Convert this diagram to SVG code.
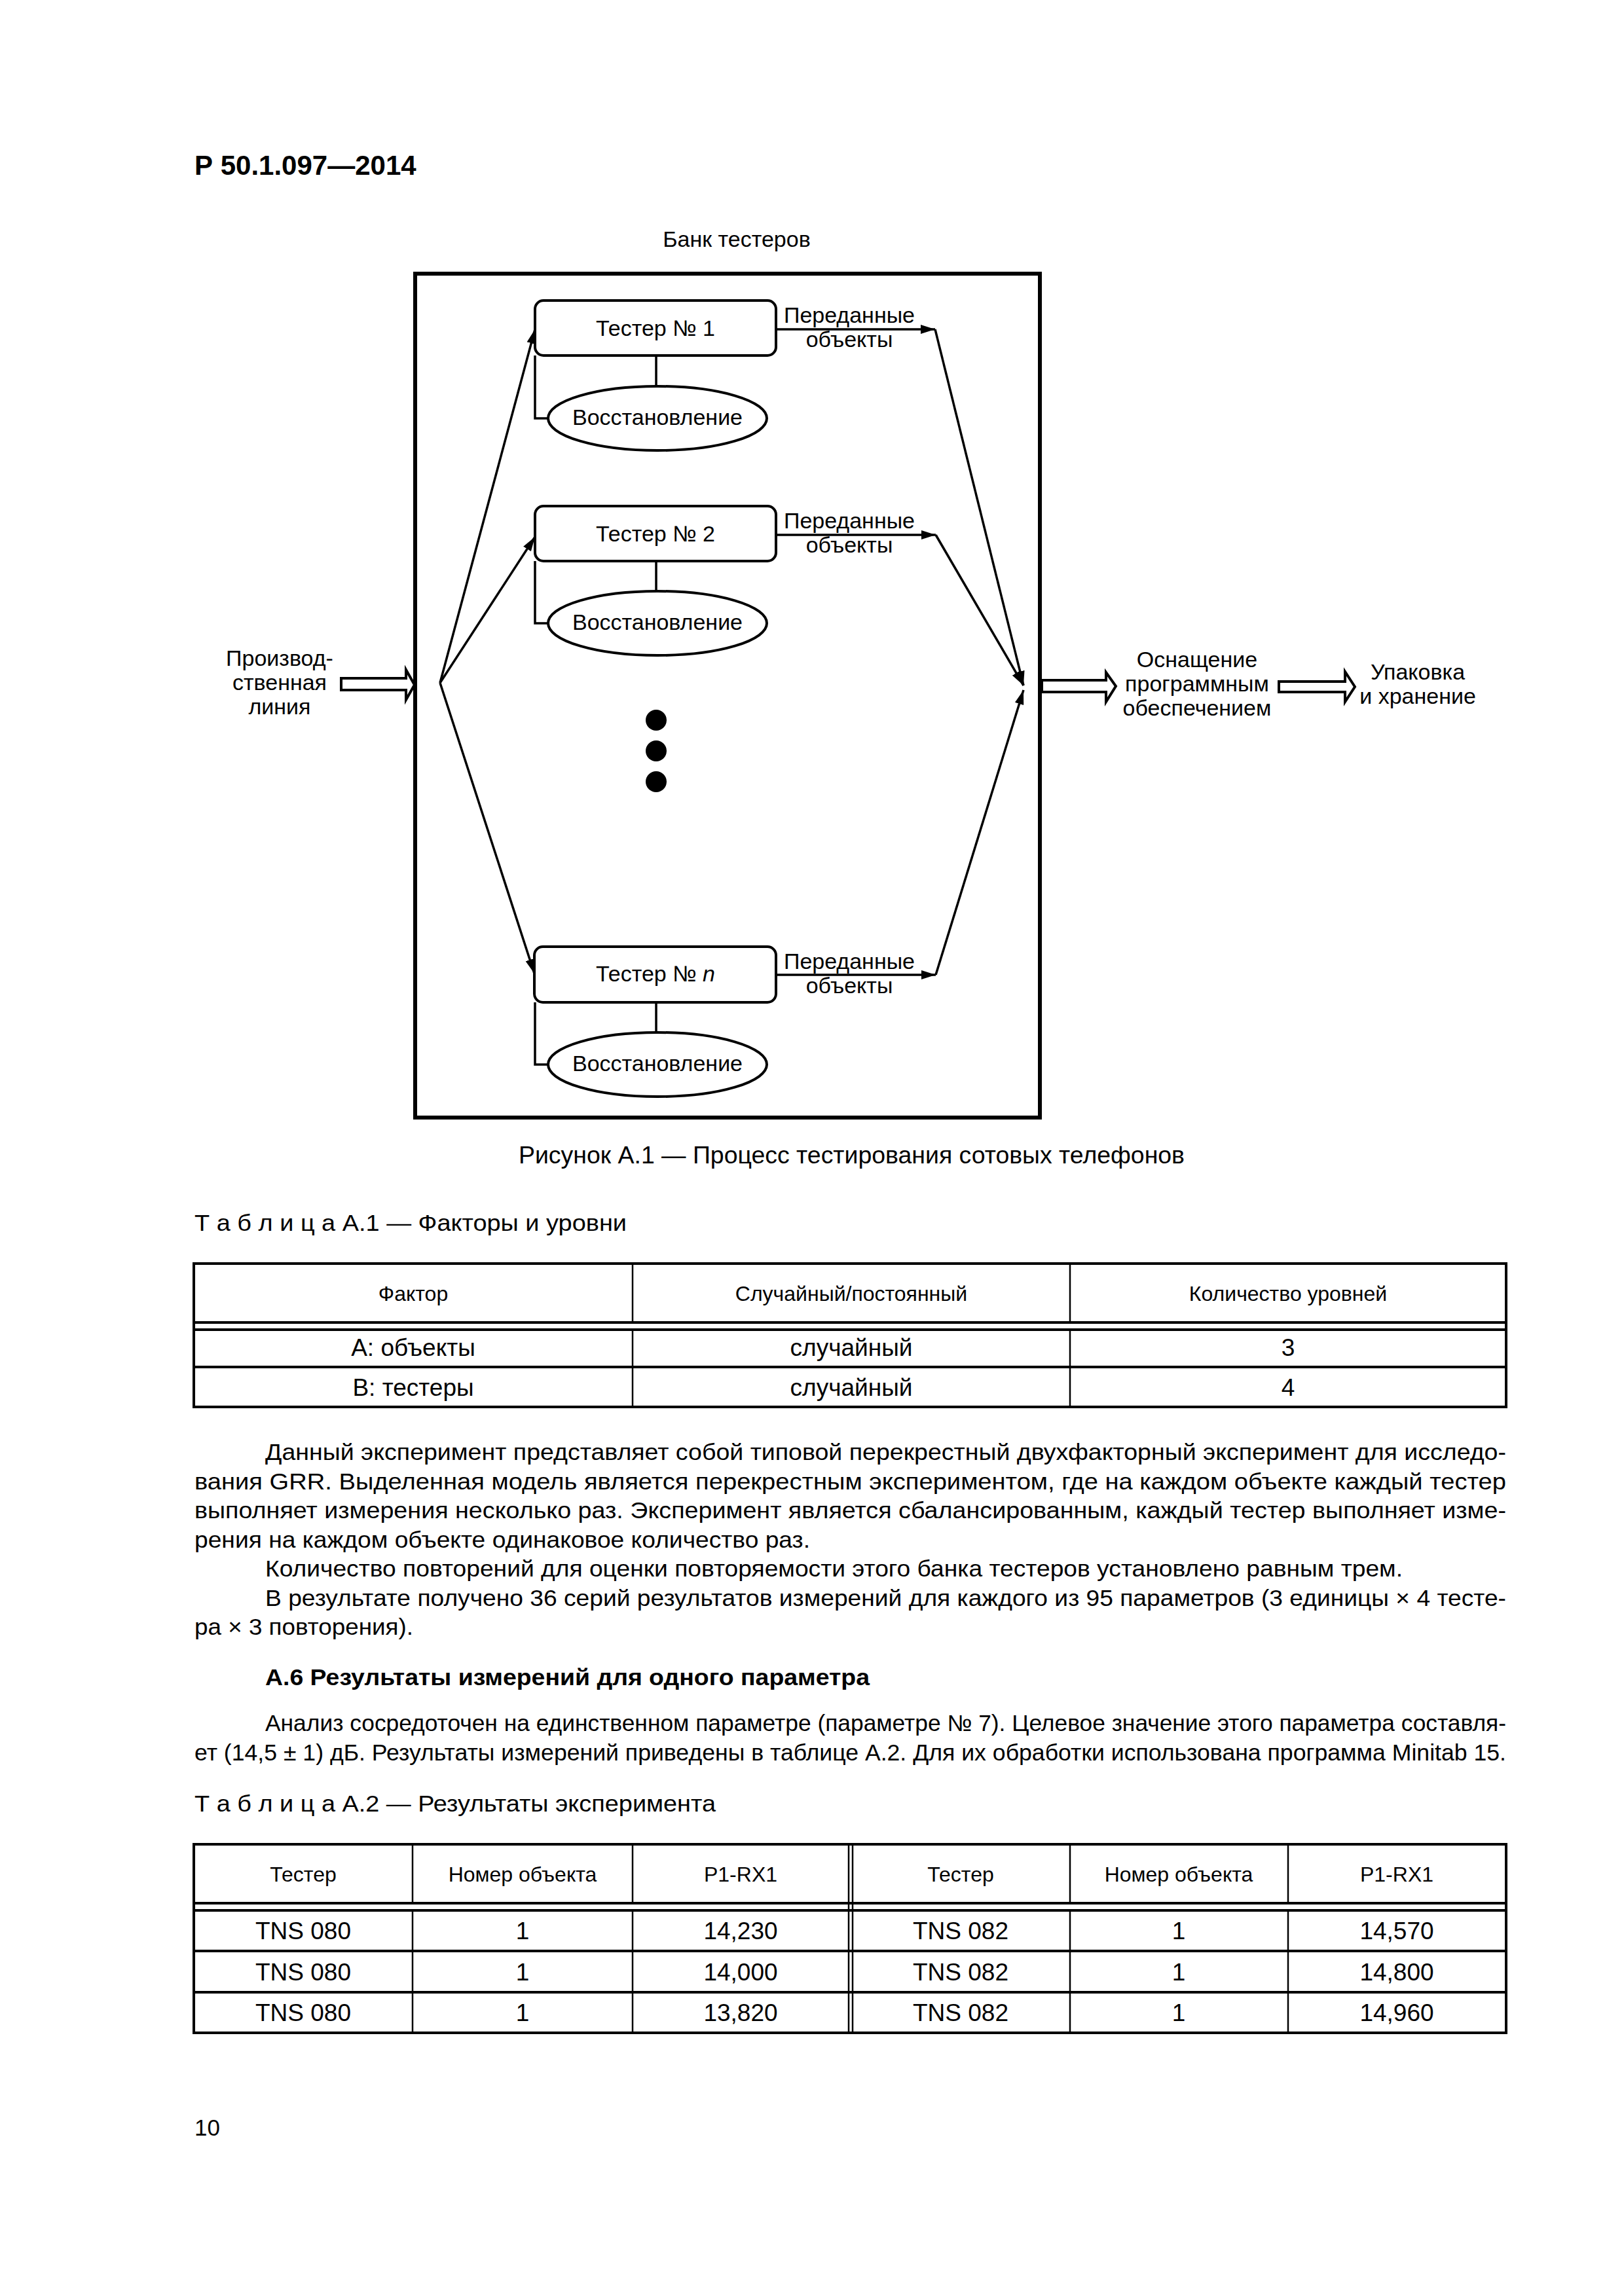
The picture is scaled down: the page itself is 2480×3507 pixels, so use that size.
<svg xmlns="http://www.w3.org/2000/svg" width="2480" height="3507" viewBox="0 0 2480 3507">
<defs>
<style>
.t{font-family:"Liberation Sans",Arial,sans-serif;fill:#000}
.c{text-anchor:middle}
.lbl{font-size:34px}
.side{font-size:34px}
.body{font-size:35px}
.th{font-size:32px}
.td{font-size:37px}
.ln{stroke:#000;fill:none;stroke-width:3.5}
.box{stroke:#000;fill:#fff;stroke-width:4}
.tb{stroke:#000;fill:none}
.hol{stroke:#000;fill:#fff;stroke-width:4;stroke-linejoin:miter}
</style>
<marker id="ah" markerUnits="userSpaceOnUse" markerWidth="24" markerHeight="14" refX="22" refY="7" orient="auto">
<path d="M0,0 L22,7 L0,14 z" fill="#000"/>
</marker>
</defs>
<rect width="2480" height="3507" fill="#fff"/>

<text class="t" x="297" y="267" font-size="42" font-weight="bold">Р 50.1.097—2014</text>

<g id="bank">
<text class="t c" x="1125" y="377" font-size="34">Банк тестеров</text>
<rect x="634" y="418" width="954" height="1289" fill="none" stroke="#000" stroke-width="6"/>
</g>

<g id="connectors">
<line class="ln" x1="672" y1="1043" x2="817" y2="503" marker-end="url(#ah)"/>
<line class="ln" x1="672" y1="1043" x2="817" y2="820" marker-end="url(#ah)"/>
<line class="ln" x1="672" y1="1043" x2="816" y2="1487" marker-end="url(#ah)"/>
<line class="ln" x1="1185" y1="503" x2="1428" y2="503" marker-end="url(#ah)"/>
<line class="ln" x1="1185" y1="817" x2="1429" y2="817" marker-end="url(#ah)"/>
<line class="ln" x1="1185" y1="1489" x2="1429" y2="1489" marker-end="url(#ah)"/>
<line class="ln" x1="1428" y1="503" x2="1563" y2="1047" marker-end="url(#ah)"/>
<line class="ln" x1="1429" y1="817" x2="1563" y2="1047" marker-end="url(#ah)"/>
<line class="ln" x1="1429" y1="1489" x2="1563" y2="1054" marker-end="url(#ah)"/>
<path class="ln" d="M1002,543 V590 M817,543 V639 H837"/>
<path class="ln" d="M1002,857 V904 M817,857 V952 H837"/>
<path class="ln" d="M1002,1531 V1577 M817,1531 V1626 H837"/>
<polygon class="hol" points="521,1036 620,1036 620,1023 633,1046 620,1069 620,1054 521,1054"/>
<polygon class="hol" points="1591,1039 1689,1039 1689,1027 1704,1048 1689,1072 1689,1057 1591,1057"/>
<polygon class="hol" points="1953,1041 2054,1041 2054,1026 2069,1049 2054,1072 2054,1057 1953,1057"/>
</g>

<g id="tester1">
<rect class="box" x="817" y="459" width="368" height="84" rx="13"/>
<text class="t c lbl" x="1001" y="513">Тестер № 1</text>
</g>
<g id="restore1">
<ellipse class="box" cx="1004" cy="639" rx="167" ry="49"/>
<text class="t c lbl" x="1004" y="649">Восстановление</text>
</g>
<g id="out1">
<text class="t c side" x="1297" y="493">Переданные</text>
<text class="t c side" x="1297" y="530">объекты</text>
</g>

<g id="tester2">
<rect class="box" x="817" y="773" width="368" height="84" rx="13"/>
<text class="t c lbl" x="1001" y="827">Тестер № 2</text>
</g>
<g id="restore2">
<ellipse class="box" cx="1004" cy="952" rx="167" ry="49"/>
<text class="t c lbl" x="1004" y="962">Восстановление</text>
</g>
<g id="out2">
<text class="t c side" x="1297" y="807">Переданные</text>
<text class="t c side" x="1297" y="844">объекты</text>
</g>

<g id="dots">
<circle cx="1002" cy="1100" r="16" fill="#000"/>
<circle cx="1002" cy="1147" r="16" fill="#000"/>
<circle cx="1002" cy="1194" r="16" fill="#000"/>
</g>

<g id="testern">
<rect class="box" x="816" y="1446" width="369" height="85" rx="13"/>
<text class="t c lbl" x="1001" y="1499">Тестер № <tspan font-style="italic">n</tspan></text>
</g>
<g id="restoren">
<ellipse class="box" cx="1004" cy="1626" rx="167" ry="49"/>
<text class="t c lbl" x="1004" y="1636">Восстановление</text>
</g>
<g id="outn">
<text class="t c side" x="1297" y="1480">Переданные</text>
<text class="t c side" x="1297" y="1517">объекты</text>
</g>

<g id="line">
<text class="t c side" x="427" y="1017">Производ-</text>
<text class="t c side" x="427" y="1054">ственная</text>
<text class="t c side" x="427" y="1091">линия</text>
</g>
<g id="software">
<text class="t c side" x="1828" y="1019">Оснащение</text>
<text class="t c side" x="1828" y="1056">программным</text>
<text class="t c side" x="1828" y="1093">обеспечением</text>
</g>
<g id="packing">
<text class="t c side" x="2165" y="1038">Упаковка</text>
<text class="t c side" x="2165" y="1075">и хранение</text>
</g>

<text class="t" x="792" y="1777" font-size="36" textLength="1017" lengthAdjust="spacingAndGlyphs">Рисунок А.1 — Процесс тестирования сотовых телефонов</text>

<text class="t" x="297" y="1880" font-size="35" textLength="660" lengthAdjust="spacingAndGlyphs">Т а б л и ц а  А.1 — Факторы и уровни</text>

<g id="table1">
<rect class="tb" x="296" y="1930" width="2004" height="219" stroke-width="4"/>
<line class="tb" x1="296" y1="2020" x2="2300" y2="2020" stroke-width="4"/>
<line class="tb" x1="296" y1="2031" x2="2300" y2="2031" stroke-width="4"/>
<line class="tb" x1="296" y1="2088" x2="2300" y2="2088" stroke-width="4"/>
<line class="tb" x1="966" y1="1930" x2="966" y2="2020" stroke-width="2.5"/>
<line class="tb" x1="966" y1="2031" x2="966" y2="2149" stroke-width="2.5"/>
<line class="tb" x1="1634" y1="1930" x2="1634" y2="2020" stroke-width="2.5"/>
<line class="tb" x1="1634" y1="2031" x2="1634" y2="2149" stroke-width="2.5"/>
<text class="t c th" x="631" y="1987">Фактор</text>
<text class="t c th" x="1300" y="1987">Случайный/постоянный</text>
<text class="t c th" x="1967" y="1987">Количество уровней</text>
<text class="t c td" x="631" y="2071">А: объекты</text>
<text class="t c td" x="1300" y="2071">случайный</text>
<text class="t c td" x="1967" y="2071">3</text>
<text class="t c td" x="631" y="2132">В: тестеры</text>
<text class="t c td" x="1300" y="2132">случайный</text>
<text class="t c td" x="1967" y="2132">4</text>
</g>

<g id="text">
<text class="t body" x="405" y="2230" textLength="1895" lengthAdjust="spacingAndGlyphs">Данный эксперимент представляет собой типовой перекрестный двухфакторный эксперимент для исследо-</text>
<text class="t body" x="297" y="2275" textLength="2003" lengthAdjust="spacingAndGlyphs">вания GRR. Выделенная модель является перекрестным экспериментом, где на каждом объекте каждый тестер</text>
<text class="t body" x="297" y="2319" textLength="2003" lengthAdjust="spacingAndGlyphs">выполняет измерения несколько раз. Эксперимент является сбалансированным, каждый тестер выполняет изме-</text>
<text class="t body" x="297" y="2364" textLength="940" lengthAdjust="spacingAndGlyphs">рения на каждом объекте одинаковое количество раз.</text>
<text class="t body" x="405" y="2408" textLength="1737" lengthAdjust="spacingAndGlyphs">Количество повторений для оценки повторяемости этого банка тестеров установлено равным трем.</text>
<text class="t body" x="405" y="2453" textLength="1895" lengthAdjust="spacingAndGlyphs">В результате получено 36 серий результатов измерений для каждого из 95 параметров (3 единицы × 4 тесте-</text>
<text class="t body" x="297" y="2497" textLength="334" lengthAdjust="spacingAndGlyphs">ра × 3 повторения).</text>
<text class="t body" x="405" y="2574" font-weight="bold" textLength="923" lengthAdjust="spacingAndGlyphs">А.6 Результаты измерений для одного параметра</text>
<text class="t body" x="405" y="2644" textLength="1895" lengthAdjust="spacingAndGlyphs">Анализ сосредоточен на единственном параметре (параметре № 7). Целевое значение этого параметра составля-</text>
<text class="t body" x="297" y="2689" textLength="2003" lengthAdjust="spacingAndGlyphs">ет (14,5 ± 1) дБ. Результаты измерений приведены в таблице А.2. Для их обработки использована программа Minitab 15.</text>
<text class="t" x="297" y="2767" font-size="35" textLength="796" lengthAdjust="spacingAndGlyphs">Т а б л и ц а  А.2 — Результаты эксперимента</text>
</g>

<g id="table2">
<rect class="tb" x="296" y="2817" width="2004" height="288" stroke-width="4"/>
<line class="tb" x1="296" y1="2907" x2="2300" y2="2907" stroke-width="4"/>
<line class="tb" x1="296" y1="2918" x2="2300" y2="2918" stroke-width="4"/>
<line class="tb" x1="296" y1="2980" x2="2300" y2="2980" stroke-width="4"/>
<line class="tb" x1="296" y1="3043" x2="2300" y2="3043" stroke-width="4"/>
<g stroke-width="2.5">
<line class="tb" x1="630" y1="2817" x2="630" y2="2907"/>
<line class="tb" x1="630" y1="2918" x2="630" y2="3105"/>
<line class="tb" x1="966" y1="2817" x2="966" y2="2907"/>
<line class="tb" x1="966" y1="2918" x2="966" y2="3105"/>
<line class="tb" x1="1296" y1="2817" x2="1296" y2="3105"/>
<line class="tb" x1="1302" y1="2817" x2="1302" y2="3105"/>
<line class="tb" x1="1634" y1="2817" x2="1634" y2="2907"/>
<line class="tb" x1="1634" y1="2918" x2="1634" y2="3105"/>
<line class="tb" x1="1967" y1="2817" x2="1967" y2="2907"/>
<line class="tb" x1="1967" y1="2918" x2="1967" y2="3105"/>
</g>
<text class="t c th" x="463" y="2874">Тестер</text>
<text class="t c th" x="798" y="2874">Номер объекта</text>
<text class="t c th" x="1131" y="2874">P1-RX1</text>
<text class="t c th" x="1467" y="2874">Тестер</text>
<text class="t c th" x="1800" y="2874">Номер объекта</text>
<text class="t c th" x="2133" y="2874">P1-RX1</text>
<text class="t c td" x="463" y="2962">TNS 080</text>
<text class="t c td" x="798" y="2962">1</text>
<text class="t c td" x="1131" y="2962">14,230</text>
<text class="t c td" x="1467" y="2962">TNS 082</text>
<text class="t c td" x="1800" y="2962">1</text>
<text class="t c td" x="2133" y="2962">14,570</text>
<text class="t c td" x="463" y="3025">TNS 080</text>
<text class="t c td" x="798" y="3025">1</text>
<text class="t c td" x="1131" y="3025">14,000</text>
<text class="t c td" x="1467" y="3025">TNS 082</text>
<text class="t c td" x="1800" y="3025">1</text>
<text class="t c td" x="2133" y="3025">14,800</text>
<text class="t c td" x="463" y="3087">TNS 080</text>
<text class="t c td" x="798" y="3087">1</text>
<text class="t c td" x="1131" y="3087">13,820</text>
<text class="t c td" x="1467" y="3087">TNS 082</text>
<text class="t c td" x="1800" y="3087">1</text>
<text class="t c td" x="2133" y="3087">14,960</text>
</g>

<text class="t" x="297" y="3262" font-size="35">10</text>
</svg>
